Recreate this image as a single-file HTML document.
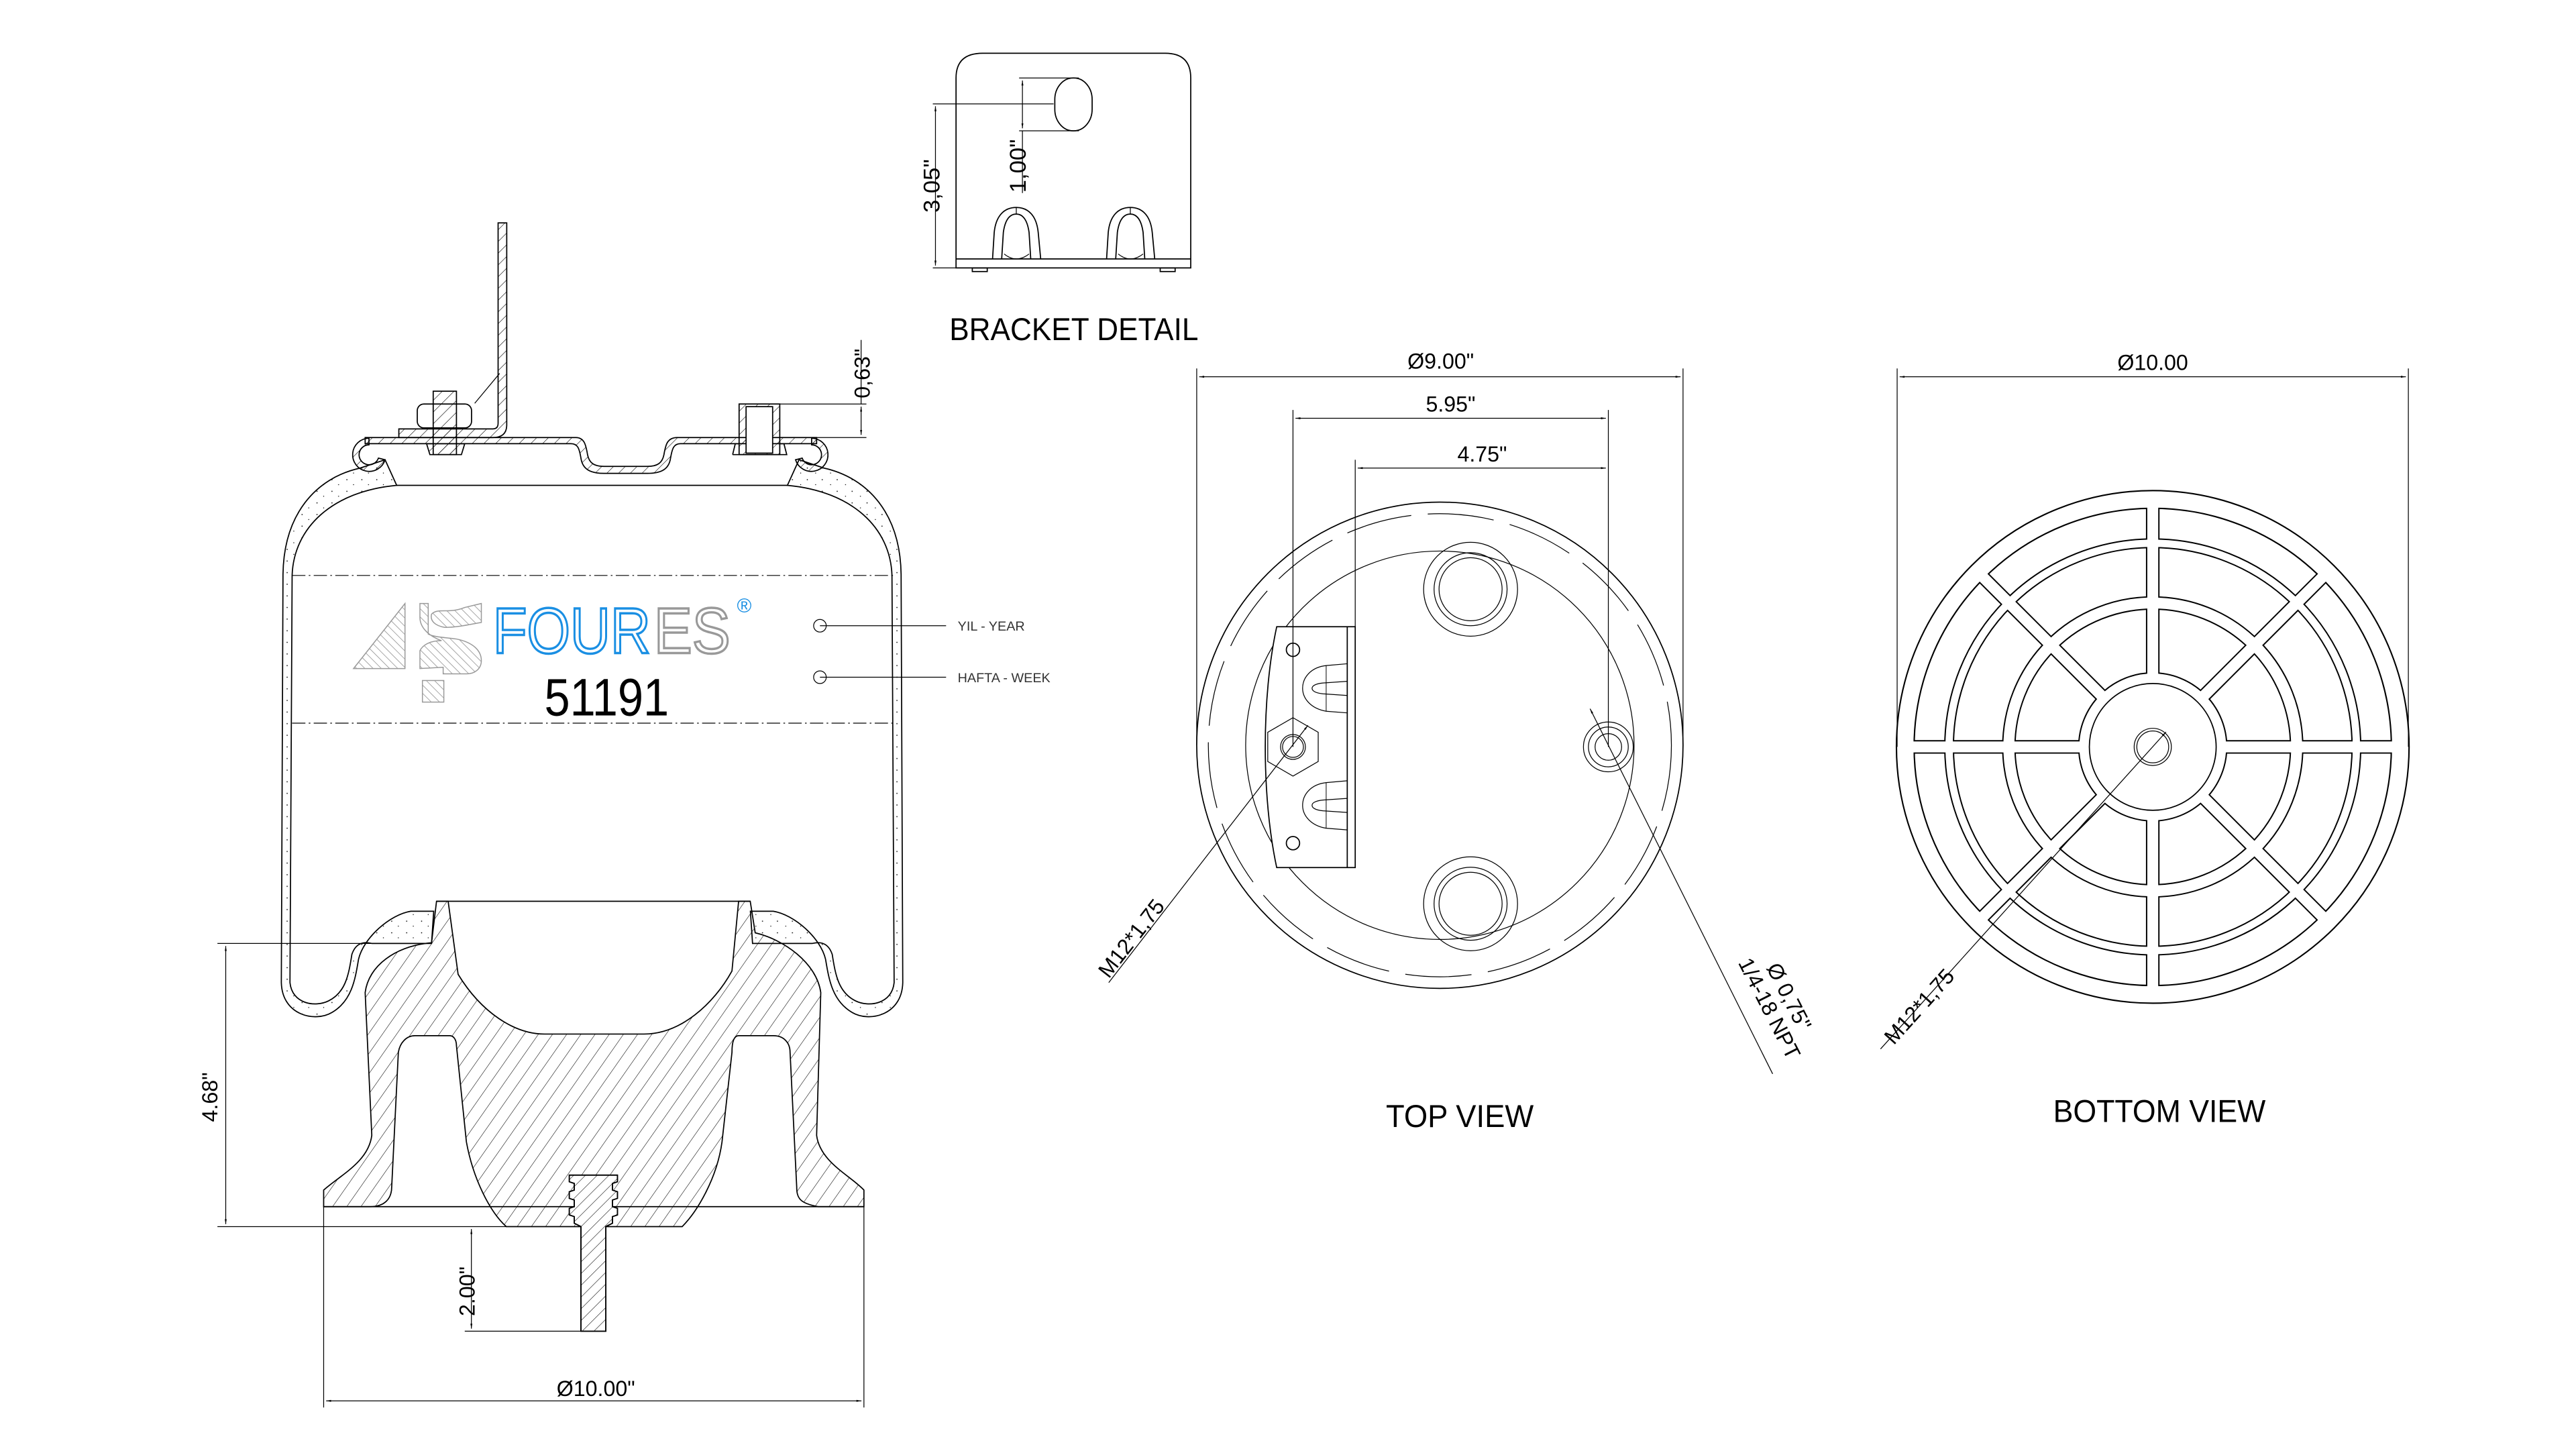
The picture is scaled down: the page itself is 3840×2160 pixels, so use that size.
<!DOCTYPE html>
<html><head><meta charset="utf-8"><style>
html,body{margin:0;padding:0;background:#fff}
svg{display:block}
text{font-family:"Liberation Sans",sans-serif}
</style></head><body>
<svg width="3840" height="2160" viewBox="0 0 1552 873" xmlns="http://www.w3.org/2000/svg">
<defs>
<pattern id="h" width="5" height="5" patternUnits="userSpaceOnUse" patternTransform="rotate(45)"><line x1="0" y1="0" x2="0" y2="5" stroke="#000" stroke-width="0.45"/></pattern>
<pattern id="hp" width="7" height="7" patternUnits="userSpaceOnUse" patternTransform="rotate(35)"><line x1="0" y1="0" x2="0" y2="7" stroke="#000" stroke-width="0.45"/></pattern>
<pattern id="hg" width="3.5" height="3.5" patternUnits="userSpaceOnUse" patternTransform="rotate(-45)"><line x1="0" y1="0" x2="0" y2="3.5" stroke="#888" stroke-width="0.6"/></pattern>
<pattern id="dots" width="9" height="7" patternUnits="userSpaceOnUse"><circle cx="2" cy="2" r="0.35" fill="#000"/><circle cx="6" cy="5" r="0.3" fill="#000"/></pattern>
<marker id="a" viewBox="0 0 10 10" refX="10" refY="5" markerWidth="6" markerHeight="6" orient="auto-start-reverse"><path d="M0,3 L10,5 L0,7 Z" fill="#000"/></marker>
</defs>
<rect width="1552" height="873" fill="#fff"/>
<g fill="none" stroke="#000" stroke-width="0.7">

<path d="M240.3,258.4 L297,258.4 Q300.1,258.4 300.1,255 L300.1,134.3 L305.3,134.3 L305.3,256 Q305.3,263.6 297,263.6 L240.3,263.6 Z" fill="url(#h)"/>
<line x1="286" y1="243" x2="301" y2="225" stroke-width="0.5"/>
<path d="M220,263.6 L347,263.6 C352,263.6 353,268 354,274 C355,279 358,281 364,281 L390,281 C396,281 399,279 400,274 C401,268 402,263.6 408,263.6 L492,263.6 L492,267.3 L410,267.3 C406,267.3 405,270 404,276 C403,283 398,285.2 390,285.2 L364,285.2 C356,285.2 351,283 350,276 C349,270 348,267.3 344,267.3 L220,267.3 Z" fill="url(#h)"/>
<path d="M222.3,264 A10,10 0 1 0 232,277 L228,276 A6,6 0 1 1 222.3,268 Z" fill="url(#h)"/>
<path d="M489,264 A10,10 0 1 1 479.3,277 L483.3,276 A6,6 0 1 0 489,268 Z" fill="url(#h)"/>
<rect x="261" y="235.7" width="14" height="38.2" fill="url(#h)"/>
<rect x="251.4" y="243.4" width="32.7" height="14.4" rx="4" fill="none"/>
<path d="M257,267.3 L280,267.3 L278,273.9 L259,273.9 Z" fill="url(#h)"/>
<rect x="445.3" y="243.4" width="24.5" height="30.5" fill="url(#h)"/>
<rect x="449.5" y="245" width="16" height="28" fill="#fff"/>
<path d="M441.4,273.9 L443,267.3 L445.3,267.3 M469.8,267.3 L472.3,267.3 L474,273.9 L441.4,273.9"/>
<line x1="469.8" y1="243.4" x2="522" y2="243.4" stroke-width="0.5"/>
<line x1="492" y1="263.6" x2="522" y2="263.6" stroke-width="0.5"/>
<line x1="518.8" y1="204.8" x2="518.8" y2="243.4" stroke-width="0.5"/>
<line x1="518.8" y1="245" x2="518.8" y2="262" stroke-width="0.5" marker-start="url(#a)" marker-end="url(#a)"/>

<g id="bel">
<path d="M217,282 C190,288 171,310 170.5,346 L169.5,592 C170,612 190,616 200,610 C212,603 214,590 216,578 C219,565 235,551 247.5,549 L261.3,549 L260,568.4 L224,568.4 C222,568 215,566 212,575 C210,588 208,598 198,603 C190,607 176,605 174.7,592 L176,346.6 C177,318 200,296 239,292.4 L232,277 Z" fill="url(#dots)"/>
</g>
<use href="#bel" transform="translate(713.4,0) scale(-1,1)"/>
<line x1="239" y1="292.4" x2="474.4" y2="292.4"/>
<line x1="176" y1="346.7" x2="538" y2="346.7" stroke-width="0.5" stroke-dasharray="8 2 1 2"/>
<line x1="176" y1="435.7" x2="538" y2="435.7" stroke-width="0.5" stroke-dasharray="8 2 1 2"/>

<path fill="url(#hp)" d="M263,543 L270,543 L276,587 C290,610 310,623 328,623 L388,623 C410,623 430,605 441,585 L445,543 L452,543 L455,562 C472,566 492,580 494.5,598 L492,684 C494,700 512,708 520.5,717 L520.5,727 L493,727 C482,725 480,722 480,715 L476,634 C476,628 472,624 466,624 L445,624 C442,624 441,628 441,634 L435,688 C432,710 420,730 411,739 L305,739 C295,730 285,710 281,688 L275,630 C275,626 273,624 271,624 L250,624 C245,624 241,628 240,634 L236,715 C236,722 232,727 223,727 L195,727 L195,717 C205,708 222,700 224,684 L220,598 C222,582 238,570 260,568 Z"/>
<line x1="263" y1="543" x2="452" y2="543"/>
<line x1="195" y1="727" x2="520.5" y2="727"/>
<path fill="#fff" d="M343,708 L372,708 L372,712 L369,713 L369,717 L372,718 L372,722 L369,723 L369,727 L372,728 L372,732 L369,733 L369,737 L365,739 L365,802 L350,802 L350,739 L346,737 L346,733 L343,732 L343,728 L346,727 L346,723 L343,722 L343,718 L346,717 L346,713 L343,712 Z"/>
<path fill="url(#h)" d="M343,708 L372,708 L372,712 L369,713 L369,717 L372,718 L372,722 L369,723 L369,727 L372,728 L372,732 L369,733 L369,737 L365,739 L365,802 L350,802 L350,739 L346,737 L346,733 L343,732 L343,728 L346,727 L346,723 L343,722 L343,718 L346,717 L346,713 L343,712 Z"/>

<line x1="131" y1="568.4" x2="224" y2="568.4" stroke-width="0.5"/>
<line x1="131" y1="739" x2="305" y2="739" stroke-width="0.5"/>
<line x1="136" y1="570" x2="136" y2="737.5" stroke-width="0.5" marker-start="url(#a)" marker-end="url(#a)"/>
<line x1="195" y1="727" x2="195" y2="848" stroke-width="0.5"/>
<line x1="520.5" y1="727" x2="520.5" y2="848" stroke-width="0.5"/>
<line x1="196.5" y1="844" x2="519" y2="844" stroke-width="0.5" marker-start="url(#a)" marker-end="url(#a)"/>
<line x1="280" y1="802" x2="350" y2="802" stroke-width="0.5"/>
<line x1="284" y1="740.5" x2="284" y2="800.5" stroke-width="0.5" marker-start="url(#a)" marker-end="url(#a)"/>

<path d="M213,402.8 L244,363.6 L244,402.8 Z" fill="url(#hg)" stroke="#999" stroke-width="0.6"/>
<path d="M253,363.6 L258,363.6 L258,382 C262,384 268,384 275,385 C285,387 290,392 290,398 C290,403 286,406 281,406 L267,406 L267,402 L253,402.8 L253,392 C255,388 260,386 266,386 C258,383 253,378 253,372 Z M260,370 C264,366 270,370 280,366 L290,363.6 L290,375 C284,376 276,378 268,378 C262,377 259,374 260,370 Z" fill="url(#hg)" stroke="#999" stroke-width="0.6"/>
<rect x="254.5" y="410" width="12.9" height="13" fill="url(#hg)" stroke="#999" stroke-width="0.6"/>
<circle cx="494" cy="377" r="3.8" stroke-width="0.5"/>
<circle cx="494" cy="408" r="3.8" stroke-width="0.5"/>
<line x1="494" y1="377" x2="570" y2="377" stroke-width="0.5"/>
<line x1="494" y1="408" x2="570" y2="408" stroke-width="0.5"/>

<path d="M576,161.4 L576,47 Q576,32.1 592,32.1 L702,32.1 Q717.4,32.1 717.4,47 L717.4,161.4 Z"/>
<line x1="576" y1="156" x2="717.4" y2="156"/>
<rect x="585.8" y="161.4" width="9" height="2.2"/>
<rect x="699" y="161.4" width="9" height="2.2"/>
<rect x="635.5" y="47" width="22.5" height="31.8" rx="11" ry="13"/>
<g id="hook"><path d="M598,156 L599,140 C600,130 605,125 612.3,125 C619.6,125 624.5,130 625.5,140 L627,156"/>
<path d="M603.5,156 L604.5,140 C605.5,133 608,129 612.3,129 C616.6,129 619,133 620,140 L621,156"/>
<path d="M605,153 Q612.3,159 620,153" stroke-width="0.5"/>
<line x1="612.3" y1="125" x2="612.3" y2="129" stroke-width="0.5"/></g>
<use href="#hook" transform="translate(68.7,0)"/>
<line x1="614" y1="47" x2="650" y2="47" stroke-width="0.5"/>
<line x1="614" y1="78.8" x2="650" y2="78.8" stroke-width="0.5"/>
<line x1="616" y1="48.5" x2="616" y2="77.3" stroke-width="0.5" marker-start="url(#a)" marker-end="url(#a)"/>
<line x1="616" y1="78.8" x2="616" y2="116.3" stroke-width="0.5"/>
<line x1="562" y1="62.6" x2="634.8" y2="62.6" stroke-width="0.5"/>
<line x1="562" y1="161.4" x2="576" y2="161.4" stroke-width="0.5"/>
<line x1="563.6" y1="64" x2="563.6" y2="160" stroke-width="0.5" marker-start="url(#a)" marker-end="url(#a)"/>

<circle cx="867.5" cy="449" r="146.5"/>
<circle cx="867.5" cy="449" r="139.5" stroke-width="0.5" stroke-dasharray="40 10"/>
<circle cx="867.5" cy="449" r="117" stroke-width="0.5"/>
<g id="hole"><circle cx="886" cy="355" r="28.3" stroke-width="0.5"/><circle cx="886" cy="355" r="22" stroke-width="0.5"/><circle cx="886" cy="355" r="19" stroke-width="0.5"/></g>
<use href="#hole" transform="translate(0,189.5)"/>
<path d="M769.2,377.6 L816.5,377.6 L816.5,522.7 L769.2,522.7 C760,480 760,420 769.2,377.6 Z" fill="#fff"/>
<line x1="811.7" y1="377.6" x2="811.7" y2="522.7"/>
<circle cx="779" cy="391.5" r="4"/>
<circle cx="779" cy="508" r="4"/>
<g id="slot"><path d="M811.7,399.9 L799,401 C790,402 784.8,408 784.8,414.7 C784.8,421 790,427 799,428.5 L811.7,429.5" stroke-width="0.5"/>
<path d="M811.7,410.5 L797,411.5 C792,412 790.5,413.5 790.5,414.7 C790.5,416 792,417.5 797,418 L811.7,419" stroke-width="0.5"/>
<line x1="799" y1="401" x2="799" y2="428.5" stroke-width="0.4"/></g>
<use href="#slot" transform="translate(0,70.5)"/>
<path d="M779,432.4 L794.2,441.2 L794.2,458.8 L779,467.6 L763.8,458.8 L763.8,441.2 Z" fill="#fff" stroke-width="0.5"/>
<circle cx="779" cy="450" r="7.5" stroke-width="0.5"/>
<circle cx="779" cy="450" r="6.3" stroke-width="0.5"/>
<circle cx="969" cy="450" r="15" stroke-width="0.5"/>
<circle cx="969" cy="450" r="12" stroke-width="0.5"/>
<circle cx="969" cy="450" r="8" stroke-width="0.5"/>
<line x1="721" y1="449" x2="721" y2="222" stroke-width="0.5"/>
<line x1="1014" y1="449" x2="1014" y2="222" stroke-width="0.5"/>
<line x1="722.5" y1="227" x2="1012.5" y2="227" stroke-width="0.5" marker-start="url(#a)" marker-end="url(#a)"/>
<line x1="779" y1="450" x2="779" y2="247" stroke-width="0.5"/>
<line x1="969" y1="450" x2="969" y2="247" stroke-width="0.5"/>
<line x1="780.5" y1="252" x2="967.5" y2="252" stroke-width="0.5" marker-start="url(#a)" marker-end="url(#a)"/>
<line x1="816.5" y1="377.6" x2="816.5" y2="277" stroke-width="0.5"/>
<line x1="818" y1="282" x2="967.5" y2="282" stroke-width="0.5" marker-start="url(#a)" marker-end="url(#a)"/>
<line x1="788" y1="437" x2="668" y2="592" stroke-width="0.5" marker-start="url(#a)"/>
<line x1="958" y1="427" x2="1068" y2="647" stroke-width="0.5" marker-start="url(#a)"/>

<g transform="translate(1297,450)">
<g stroke="#000">
<circle r="149.1" stroke-width="11.5"/>
<circle r="122.7" stroke-width="6"/>
<circle r="86.7" stroke-width="8.2"/>
<circle r="41.2" stroke-width="7.6"/>
<g stroke-width="8.2"><line x1="-150" y1="0" x2="150" y2="0"/><line x1="0" y1="-150" x2="0" y2="150"/><line x1="-106" y1="-106" x2="106" y2="106"/><line x1="-106" y1="106" x2="106" y2="-106"/></g>
</g>
<g stroke="#fff">
<circle r="149.1" stroke-width="9.8"/>
<circle r="122.7" stroke-width="4.4"/>
<circle r="86.7" stroke-width="6.6"/>
<circle r="41.2" stroke-width="6"/>
<g stroke-width="6.6"><line x1="-149" y1="0" x2="149" y2="0"/><line x1="0" y1="-149" x2="0" y2="149"/><line x1="-105.4" y1="-105.4" x2="105.4" y2="105.4"/><line x1="-105.4" y1="105.4" x2="105.4" y2="-105.4"/></g>
</g>
<circle r="38.2" fill="#fff" stroke-width="0.7"/>
<circle r="11.2" stroke-width="0.5"/>
<circle r="9.6" stroke-width="0.5"/>
</g>
<line x1="1305" y1="441" x2="1133" y2="632" stroke-width="0.5" marker-start="url(#a)"/>
<line x1="1143" y1="450" x2="1143" y2="222" stroke-width="0.5"/>
<line x1="1451" y1="450" x2="1451" y2="222" stroke-width="0.5"/>
<line x1="1144.5" y1="227" x2="1449.5" y2="227" stroke-width="0.5" marker-start="url(#a)" marker-end="url(#a)"/>
</g>

<g font-size="13" fill="#000">
<text transform="translate(524,225) rotate(-90)" text-anchor="middle">0,63"</text>
<text transform="translate(131,661) rotate(-90)" text-anchor="middle">4.68"</text>
<text transform="translate(286,778) rotate(-90)" text-anchor="middle">2.00"</text>
<text x="359" y="841" text-anchor="middle">Ø10.00"</text>
<text transform="translate(566,112) rotate(-90)" text-anchor="middle" font-size="14">3,05"</text>
<text transform="translate(618,100) rotate(-90)" text-anchor="middle" font-size="14">1,00"</text>
<text x="868" y="222" text-anchor="middle">Ø9.00"</text>
<text x="874" y="248" text-anchor="middle">5.95"</text>
<text x="893" y="278" text-anchor="middle">4.75"</text>
<text x="1297" y="223" text-anchor="middle">Ø10.00</text>
<text transform="translate(668,590) rotate(-52)">M12*1,75</text>
<text transform="translate(1064,583) rotate(63)">Ø 0,75"</text>
<text transform="translate(1047,580) rotate(63)">1/4-18 NPT</text>
<text transform="translate(1141,630) rotate(-48)">M12*1,75</text>
</g>
<g font-size="19" fill="#000">
<text x="572" y="205" textLength="150" lengthAdjust="spacingAndGlyphs">BRACKET DETAIL</text>
<text x="835" y="679" textLength="89" lengthAdjust="spacingAndGlyphs">TOP VIEW</text>
<text x="1237" y="676" textLength="128" lengthAdjust="spacingAndGlyphs">BOTTOM VIEW</text>
</g>
<g font-size="8" fill="#333">
<text x="577" y="380">YIL  -  YEAR</text>
<text x="577" y="411">HAFTA  -  WEEK</text>
</g>
<text x="297" y="393.5" font-size="39" textLength="95" lengthAdjust="spacingAndGlyphs" fill="#fff" stroke="#1a8fe3" stroke-width="1.4">FOUR</text>
<text x="394" y="393.5" font-size="39" textLength="46" lengthAdjust="spacingAndGlyphs" fill="#fff" stroke="#999" stroke-width="1.4">ES</text>
<text x="444" y="369" font-size="12" fill="#1a8fe3">®</text>
<text x="328" y="431" font-size="32" textLength="75" lengthAdjust="spacingAndGlyphs" fill="#000">51191</text>
</svg>
</body></html>
